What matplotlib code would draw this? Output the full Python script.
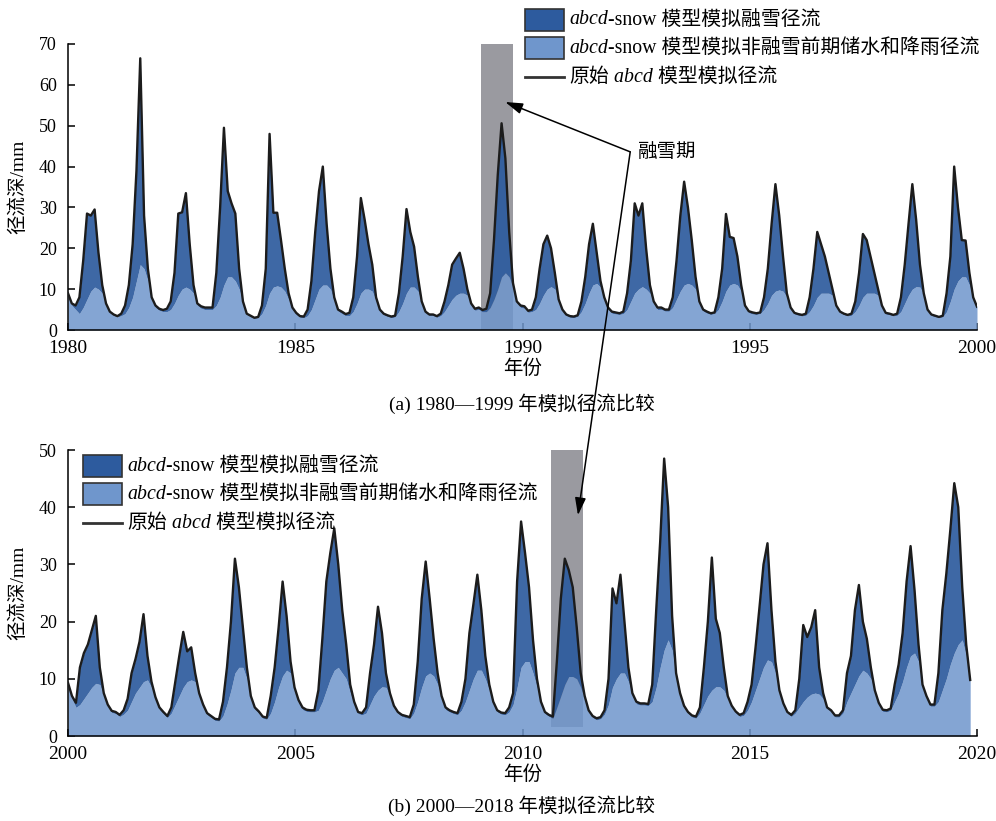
import numpy as np
import matplotlib.pyplot as plt
from matplotlib.lines import Line2D
from matplotlib.patches import Rectangle
from matplotlib.offsetbox import TextArea, DrawingArea, HPacker, VPacker, AnchoredOffsetbox

plt.rcParams['font.family'] = ['Liberation Serif', 'Noto Sans CJK SC']
plt.rcParams['axes.unicode_minus'] = False

# 月径流深 (mm)，每行一年 (1-12 月)
# (a) 1980-1999
line_a = [
    9, 6.5, 6, 8, 17, 28.5, 28, 29.5, 19, 11, 6.5, 4.5,
    3.8, 3.4, 4, 6, 11, 21, 39, 66.5, 28, 15, 8, 6,
    5.2, 4.9, 5.2, 7, 14, 28.5, 28.8, 33.5, 21, 11, 6.5, 5.8,
    5.5, 5.5, 5.5, 14, 30, 49.5, 34, 31, 28.5, 15, 7, 4,
    3.5, 3, 3.2, 6, 15, 48, 28.7, 28.7, 22, 15, 9, 5.5,
    4.2, 3.4, 3.3, 5, 12, 24, 34, 40, 26, 15, 8, 5,
    4.5, 3.9, 4.2, 8, 18, 32.3, 27, 21, 16, 8, 5, 4,
    3.6, 3.3, 3.5, 9, 18, 29.6, 24, 20.4, 13, 7, 4.5, 3.8,
    3.8, 3.4, 4, 7, 11, 16, 17.5, 18.9, 15, 10, 6.5, 5.2,
    5.5, 4.9, 5.2, 9, 22, 38, 50.6, 42, 24, 11.5, 7, 6,
    5.8, 4.7, 5, 8, 15, 21, 23.1, 20, 14, 7.5, 5, 3.8,
    3.4, 3.3, 3.6, 7, 13, 21, 26, 19, 12, 8, 5.5, 4.5,
    4.3, 4.1, 4.5, 9, 17, 31, 28, 31, 20, 11, 7, 5.5,
    5.5, 5, 5, 8, 17, 28, 36.3, 30, 22, 13, 7, 5,
    4.5, 4.1, 4.3, 8, 15, 28.4, 22.8, 22.5, 18, 11, 6, 4.6,
    4.3, 4.1, 4.3, 8, 15, 26, 35.7, 28, 18, 9, 5.5, 4.2,
    3.9, 3.7, 4, 8, 15, 24, 21, 18, 14, 10, 6, 4.5,
    4, 3.7, 4, 7, 14, 23.5, 22, 18, 14, 10, 6, 4.2,
    4, 3.7, 4, 8, 16, 26, 35.7, 27, 16, 9, 5, 3.8,
    3.5, 3.2, 3.5, 9, 18, 40, 30, 22, 21.9, 14, 8, 5.7,
]
base_a = [
    8.5, 6, 5, 4, 5.5, 7.5, 9.5, 10.5, 10, 9, 6, 4.2,
    3.5, 3.2, 3.5, 4, 5.5, 8, 12, 16, 15, 12, 7.5, 5.5,
    4.8, 4.5, 4.5, 5, 6.5, 8.5, 10, 10.5, 10, 9, 6, 5.3,
    5, 5, 5, 6, 8, 11, 13, 13, 12, 10, 6.5, 3.8,
    3.2, 2.8, 3, 4, 6, 9, 10.5, 10.8, 10.5, 9.5, 7.5, 5,
    3.8, 3.1, 3, 3.5, 5, 7.5, 10, 11, 11, 10, 7, 4.6,
    4, 3.5, 3.5, 4.5, 6.5, 9, 10, 10, 9.5, 7, 4.6, 3.7,
    3.3, 3, 3.2, 4.5, 6.5, 9, 10.5, 10.5, 9.5, 6.5, 4.2, 3.5,
    3.5, 3.1, 3.5, 4.5, 6, 7.5, 8.5, 9, 9, 8.5, 6, 4.8,
    5, 4.5, 4.5, 5.5, 7.5, 10, 13, 14, 13, 10.5, 6.5, 5.5,
    5.3, 4.3, 4.5, 5, 6.5, 8.5, 10, 10.6, 10, 7, 4.6, 3.5,
    3.1, 3, 3.3, 4.5, 6.5, 9, 11, 11.4, 10.5, 7.5, 5, 4.1,
    3.9, 3.8, 4, 5, 7, 9, 10, 10.6, 10, 9, 6.5, 5,
    5, 4.6, 4.6, 5.5, 7.5, 9.5, 11, 11.4, 11, 10, 6.5, 4.6,
    4.1, 3.8, 4, 5, 7, 9.5, 11, 11.4, 11, 9.5, 5.6, 4.2,
    3.9, 3.8, 4, 5, 6.5, 8.5, 9.5, 9.8, 9.5, 8, 5, 3.9,
    3.6, 3.4, 3.6, 4.5, 6, 8, 9, 9, 9, 8.5, 5.6, 4.2,
    3.7, 3.4, 3.6, 4.5, 6, 8, 9, 9, 9, 8.5, 5.6, 3.9,
    3.7, 3.4, 3.6, 4.5, 6.5, 8.5, 10, 10.6, 10.5, 8.5, 4.7, 3.5,
    3.2, 3, 3.2, 4.5, 7, 10, 12, 13, 13, 11, 7.5, 5.5,
]

# (b) 2000-2018
line_b = [
    9.3, 7, 5.8, 12, 14.5, 16, 18.5, 21, 12, 7.5, 5.5, 4.4,
    4.2, 3.7, 4.5, 6.5, 11, 13.5, 16.5, 21.3, 14, 9.5, 6.8, 5,
    4.2, 3.5, 5, 9.5, 14, 18.2, 14.8, 15.5, 11, 7.5, 5.5, 4,
    3.5, 3, 2.9, 6, 12, 20, 31, 26, 19, 12, 7, 5,
    4.3, 3.4, 3.2, 7, 12, 19, 27, 21, 13, 8.5, 6.3, 5,
    4.6, 4.5, 4.5, 8, 17, 27, 32, 36.3, 30, 22, 16, 9,
    6, 4.2, 4, 5, 11, 16, 22.6, 18, 11, 7.5, 5.3, 4.2,
    3.7, 3.5, 3.3, 5.5, 13, 24, 30.5, 24, 17, 11, 7, 5,
    4.5, 4.2, 4, 6, 10, 18, 23, 28.2, 22, 14, 9, 6,
    4.5, 4.1, 4, 5, 7.5, 27, 37.5, 32, 26, 16.8, 10, 6,
    4.2, 3.7, 3.4, 13, 24, 31, 29, 26, 19, 11, 7, 4.5,
    3.5, 3.1, 3.3, 4.5, 10, 25.8, 23.2, 28.2, 20, 12, 7.5, 6,
    5.7, 5.7, 5.6, 9, 22, 34, 48.5, 40, 21, 11, 7.5, 5.3,
    4.2, 3.6, 3.4, 5, 12, 20, 31.2, 20.5, 18, 12, 7, 5.3,
    4.3, 3.7, 4, 6, 9, 15.5, 22.6, 30, 33.7, 22, 13, 8,
    5.7, 4.2, 3.7, 4.5, 10, 19.4, 17.3, 19, 22, 12, 7.5, 5,
    4.5, 3.6, 3.6, 4.5, 11, 14, 22, 26.4, 20, 17, 12, 8,
    5.8, 4.6, 4.5, 4.8, 9, 12.5, 18, 27, 33.2, 25.5, 16, 9,
    7, 5.5, 5.5, 11, 22, 28.4, 36, 44.2, 40, 26, 16, 9.8,
]
base_b = [
    9, 6.5, 5, 5.5, 6.5, 7.5, 8.5, 9.2, 9, 7, 5.2, 4.1,
    3.9, 3.4, 3.8, 4.5, 6, 7.5, 8.5, 9.5, 9.8, 8.5, 6.3, 4.6,
    3.9, 3.2, 4, 5.5, 7, 8.5, 9.5, 9.8, 9.5, 7, 5, 3.7,
    3.2, 2.7, 2.6, 3.5, 5.5, 8, 11, 12, 12, 10, 6.5, 4.6,
    4, 3.1, 2.9, 4, 6, 8.5, 10.5, 11.5, 11, 8, 5.8, 4.6,
    4.3, 4.2, 4.2, 4.5, 6, 8, 10, 11.5, 12, 11, 10, 7.5,
    5.5, 3.9, 3.7, 4, 5.5, 7, 8, 8.6, 8.5, 7, 5, 3.9,
    3.4, 3.2, 3, 4, 6, 8.5, 10.5, 11, 10.5, 9, 6.5, 4.6,
    4.2, 3.9, 3.7, 4.5, 6, 8, 10, 11.5, 11.5, 10, 8, 5.5,
    4.2, 3.8, 3.7, 4.2, 5.5, 8.5, 12, 13, 13, 11, 8.5, 5.5,
    3.9, 3.4, 3.1, 5, 7, 9, 10.4, 10.4, 10, 8.5, 6.5, 4.2,
    3.2, 2.8, 3, 3.8, 5.5, 8.5, 10, 11, 11, 9.5, 7, 5.6,
    5.4, 5.4, 5.3, 6, 8.5, 12, 15, 16.8, 15, 10, 7, 5,
    3.9, 3.3, 3.1, 4, 5.5, 7, 8, 8.6, 8.6, 8, 6.5, 5,
    4, 3.4, 3.6, 4.5, 6, 8, 10, 12, 13.3, 13, 11, 7.5,
    5.3, 3.9, 3.4, 4, 5, 6, 6.8, 7.3, 7.5, 7.3, 6.5, 4.7,
    4.2, 3.3, 3.3, 4, 6, 7.5, 9, 10.5, 11.5, 11, 10, 7.5,
    5.4, 4.3, 4.2, 4.5, 6, 7.5, 9.5, 12, 14, 14.5, 13, 8.5,
    6.5, 5.2, 5.2, 6, 8, 10, 12.5, 14.5, 16, 16.8, 14, 9.5,
]

# 融雪期阴影范围 (年)
melt_a = (1989.09, 1989.79)
melt_b = (2010.63, 2011.33)

DARK = '#2d5b9e'
LIGHT = '#6f96cc'
LINE = '#1c1c1c'

# 图例：(类型, 颜色, [(文字, 字形), ...])
legend_rows = [
    ('patch', DARK, [('abcd', 'italic'), ('-snow 模型模拟融雪径流', 'normal')]),
    ('patch', LIGHT, [('abcd', 'italic'), ('-snow 模型模拟非融雪前期储水和降雨径流', 'normal')]),
    ('line', '#333333', [('原始', 'normal'), (' abcd', 'italic'), (' 模型模拟径流', 'normal')]),
]

W, H = 996, 821
PT = 0.72  # points per pixel at dpi 100
fig = plt.figure(figsize=(W / 100, H / 100), dpi=100)
ax1 = fig.add_axes([68 / W, 1 - 330 / H, 909 / W, 286 / H])
ax2 = fig.add_axes([68 / W, 1 - 736 / H, 909 / W, 286 / H])


def draw_panel(ax, x, line, base, span, ylim, xlim, span_bottom):
    line = np.array(line)
    base = np.array(base)
    ax.fill_between([span[0], span[1]], span_bottom, ylim, color='#9a9aa0', lw=0, zorder=1)
    ax.fill_between(x, 0, base, color=LIGHT, alpha=0.85, lw=0, zorder=2)
    ax.fill_between(x, base, line, color=DARK, alpha=0.92, lw=0, zorder=3)
    ax.plot(x, line, color=LINE, lw=1.7, zorder=4)
    ax.set_xlim(*xlim)
    ax.set_ylim(0, ylim)
    ax.set_yticks(np.arange(0, ylim + 1, 10))
    ax.set_xticks(np.arange(xlim[0], xlim[1] + 1, 5))
    for s in ['top', 'right']:
        ax.spines[s].set_visible(False)
    for s in ['left', 'bottom']:
        ax.spines[s].set_linewidth(1.1)
    ax.tick_params(direction='in', length=5, width=1.1)
    ax.tick_params(axis='x', labelsize=14, pad=7)
    ax.tick_params(axis='y', labelsize=13, pad=8)
    ax.set_xlabel('年份', fontsize=14, labelpad=2)


def add_legend(x_px, y_px, fs=14.3):
    hw, hh = 39 * PT, 22 * PT
    rows = []
    for kind, color, parts in legend_rows:
        da = DrawingArea(hw, hh)
        if kind == 'patch':
            da.add_artist(Rectangle((0, 0), hw, hh, facecolor=color, edgecolor='#333333', lw=1.2))
        else:
            da.add_artist(Line2D([0, hw], [hh / 2, hh / 2], color=color, lw=2))
        pieces = [TextArea(s, textprops=dict(fontsize=fs, fontstyle=st)) for s, st in parts]
        txt = HPacker(children=pieces, align='baseline', pad=0, sep=0)
        rows.append(HPacker(children=[da, txt], align='center', pad=0, sep=5 * PT))
    box = VPacker(children=rows, align='left', pad=0, sep=6.5 * PT)
    fig.add_artist(AnchoredOffsetbox(loc='upper left', child=box, pad=0, borderpad=0,
                                     frameon=False, bbox_to_anchor=(x_px / W, 1 - y_px / H),
                                     bbox_transform=fig.transFigure))


x_a = np.linspace(1980, 2000, len(line_a))
x_b = np.linspace(2000, 2019.85, len(line_b))
draw_panel(ax1, x_a, line_a, base_a, melt_a, 70, (1980, 2000), 0)
draw_panel(ax2, x_b, line_b, base_b, melt_b, 50, (2000, 2020), 1.6)

for yc in [187, 593]:
    fig.text(18 / W, 1 - yc / H, '径流深/mm', rotation=90, ha='center', va='center', fontsize=14)

fig.text(522 / W, 1 - 404 / H, '(a) 1980—1999 年模拟径流比较', ha='center', va='center', fontsize=14)
fig.text(522 / W, 1 - 806 / H, '(b) 2000—2018 年模拟径流比较', ha='center', va='center', fontsize=14)

add_legend(525, 9)
add_legend(83, 455)

# 融雪期标注
vertex = (1992.37, 43.6)
ax1.text(1992.55, 43.6, '融雪期', fontsize=14, va='center', ha='left')
arrow = dict(arrowstyle='-|>,head_length=0.7,head_width=0.22', color='black', lw=1.1,
             shrinkA=0, shrinkB=0, mutation_scale=15)
ax1.annotate('', xy=(1989.62, 55.8), xytext=vertex, arrowprops=arrow)
ax2.annotate('', xy=(2011.22, 38.6), xytext=vertex, textcoords=ax1.transData,
             arrowprops=arrow, annotation_clip=False)

fig.savefig('out.png', dpi=100)
